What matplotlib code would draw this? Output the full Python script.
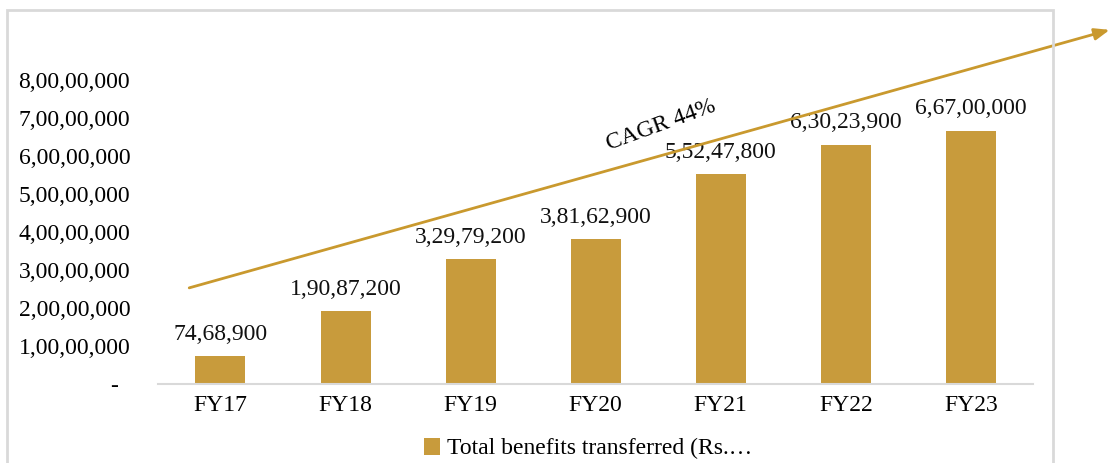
import matplotlib
matplotlib.use('Agg')
import matplotlib.pyplot as plt
from matplotlib.patches import Rectangle

years = ['FY17', 'FY18', 'FY19', 'FY20', 'FY21', 'FY22', 'FY23']
benefits = [7468900, 19087200, 32979200, 38162900, 55247800, 63023900, 66700000]
benefit_labels = ['74,68,900', '1,90,87,200', '3,29,79,200', '3,81,62,900',
                  '5,52,47,800', '6,30,23,900', '6,67,00,000']
yticks = [0, 10000000, 20000000, 30000000, 40000000, 50000000, 60000000, 70000000, 80000000]
ytick_labels = ['-  ', '1,00,00,000', '2,00,00,000', '3,00,00,000', '4,00,00,000',
                '5,00,00,000', '6,00,00,000', '7,00,00,000', '8,00,00,000']
trend_start = (-0.25, 25300000)
trend_end = (7.11, 93200000)
legend_label = 'Total benefits transferred (Rs.…'

plt.rcParams['font.family'] = ['Liberation Serif', 'DejaVu Serif']
gold = '#C89B3C'

fig = plt.figure(figsize=(11.1, 4.63), dpi=100)
ax = fig.add_axes([0.1423, 0.1706, 0.7887, 0.7387])

x = list(range(len(years)))
bars = ax.bar(x, benefits, width=0.4, color=gold, label=legend_label, zorder=2)

for xi, v, lab in zip(x, benefits, benefit_labels):
    ax.annotate(lab, (xi, v), xytext=(0, 8), textcoords='offset points',
                ha='center', va='bottom', fontsize=17, color='#111111')

ax.set_xlim(-0.5, len(years) - 0.5)
ax.set_ylim(0, 90000000)
ax.set_xticks(x)
ax.set_xticklabels(years, fontsize=17)
ax.set_yticks(yticks)
ax.set_yticklabels(ytick_labels, fontsize=17)
ax.tick_params(axis='both', length=0)
ax.tick_params(axis='y', pad=20)
ax.tick_params(axis='x', pad=8)

for s in ['top', 'right', 'left']:
    ax.spines[s].set_visible(False)
ax.spines['bottom'].set_color('#D9D9D9')
ax.spines['bottom'].set_linewidth(1.5)

# trend arrow
ax.annotate('', xy=trend_end, xytext=trend_start, annotation_clip=False,
            arrowprops=dict(arrowstyle='-|>,head_length=0.9,head_width=0.35',
                            color='#C9992E', lw=2, shrinkA=0, shrinkB=0))
ax.text(3.52, 68000000, 'CAGR 44%', rotation=20, fontsize=17,
        ha='center', va='center', rotation_mode='anchor')

ax.legend(loc='lower center', bbox_to_anchor=(0.53, -0.018), bbox_transform=fig.transFigure,
          frameon=False, fontsize=17, handlelength=0.7, handleheight=0.7,
          handletextpad=0.3, borderaxespad=0.1)

fig.patches.append(Rectangle((7 / 1110, -0.01), 1046 / 1110, 1 - 10 / 463 + 0.01,
                             transform=fig.transFigure, fill=False,
                             edgecolor='#D9D9D9', lw=2, zorder=0))

fig.savefig('out.png', dpi=100)
